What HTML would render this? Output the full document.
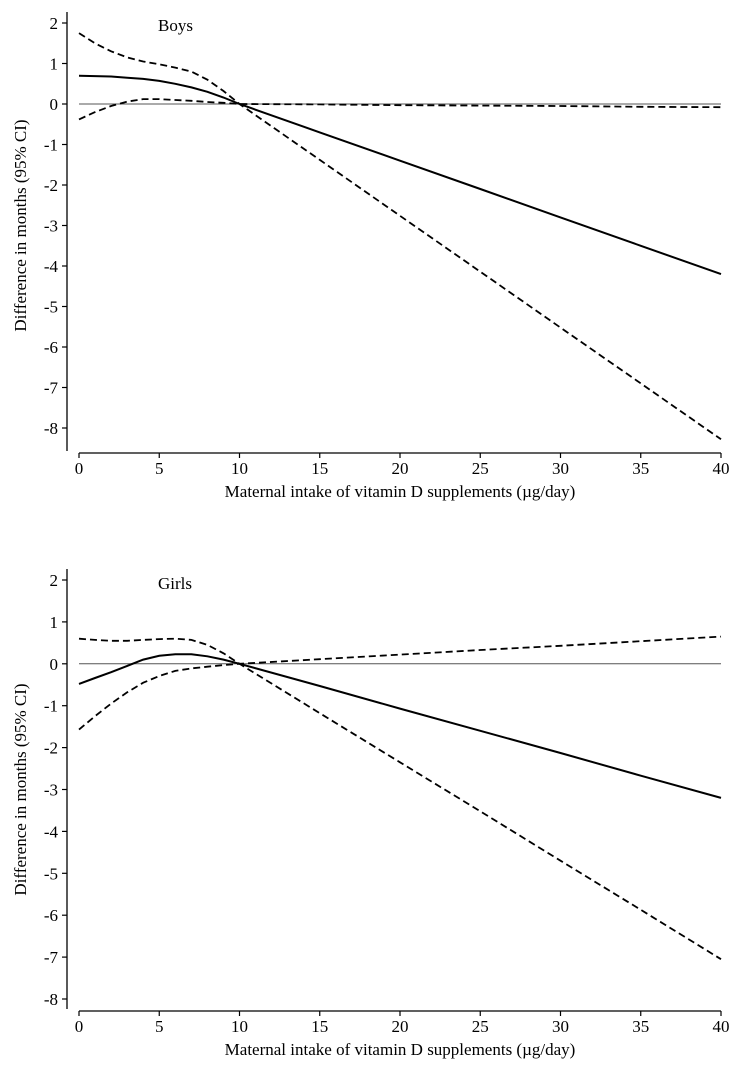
<!DOCTYPE html>
<html><head><meta charset="utf-8"><style>
body{margin:0;background:#fff;}
svg{display:block;font-family:"Liberation Serif",serif;}
</style></head><body>
<svg id="s" width="739" height="1071"></svg>
<script>
const xs=[0,1,2,3,4,5,6,7,8,9,10,15,20,25,30,35,40];
const boysEst=[0.7,0.69,0.68,0.65,0.62,0.57,0.5,0.41,0.3,0.16,0,-0.7,-1.4,-2.1,-2.8,-3.5,-4.2];
const boysA=[1.75,1.5,1.3,1.15,1.05,0.98,0.9,0.8,0.6,0.32,0,-1.38,-2.76,-4.14,-5.52,-6.9,-8.28];
const boysB=[-0.38,-0.2,-0.05,0.06,0.12,0.12,0.1,0.08,0.05,0.03,0,-0.01,-0.03,-0.04,-0.05,-0.07,-0.08];
const girlsEst=[-0.48,-0.34,-0.2,-0.05,0.1,0.19,0.23,0.23,0.18,0.1,0,-0.53,-1.07,-1.6,-2.13,-2.67,-3.2];
const girlsA=[0.6,0.57,0.55,0.55,0.57,0.59,0.6,0.57,0.45,0.25,0,-1.18,-2.35,-3.52,-4.7,-5.87,-7.05];
const girlsB=[-1.57,-1.25,-0.95,-0.68,-0.45,-0.29,-0.17,-0.11,-0.07,-0.03,0,0.11,0.22,0.33,0.43,0.54,0.65];
const xTicks=[0,5,10,15,20,25,30,35,40];
const yTicks=[2,1,0,-1,-2,-3,-4,-5,-6,-7,-8];
const svg=document.getElementById('s');
const NS='http://www.w3.org/2000/svg';
function el(t,a,p){const e=document.createElementNS(NS,t);for(const k in a)e.setAttribute(k,a[k]);(p||svg).appendChild(e);return e;}
function panel(name,y2,y0unit,axisY,yTop,title,titleY,xlabY,est,A,B){
  const g=el('g',{});
  
  
  const X=v=>79+v*16.05;
  const Y=v=>y2+(2-v)*y0unit;
  const ya=el('line',{x1:67,y1:yTop,x2:67,y2:axisY-2,stroke:'#000','stroke-width':1.3},g);
  
  yTicks.forEach(t=>{
    el('line',{x1:62,x2:67,y1:Y(t),y2:Y(t),stroke:'#000','stroke-width':1.2},g);
    const tx=el('text',{x:58,y:Y(t)+6,'text-anchor':'end','font-size':17},g);tx.textContent=t;
    
  });
  const xa=el('line',{x1:79,y1:axisY,x2:X(40),y2:axisY,stroke:'#000','stroke-width':1.3},g);
  
  xTicks.forEach(t=>{
    el('line',{x1:X(t),x2:X(t),y1:axisY,y2:axisY+5,stroke:'#000','stroke-width':1.2},g);
    const tx=el('text',{x:X(t),y:axisY+21,'text-anchor':'middle','font-size':17},g);tx.textContent=t;
    
  });
  const ref=el('line',{x1:79,x2:X(40),y1:Y(0),y2:Y(0),stroke:'#555','stroke-width':1},g);
  
  const pts=arr=>xs.map((x,i)=>X(x).toFixed(1)+','+Y(arr[i]).toFixed(1)).join(' ');
  const l1=el('polyline',{points:pts(est),fill:'none',stroke:'#000','stroke-width':2},g);
  
  const l2=el('polyline',{points:pts(A),fill:'none',stroke:'#000','stroke-width':1.8,'stroke-dasharray':'7,4'},g);
  
  const l3=el('polyline',{points:pts(B),fill:'none',stroke:'#000','stroke-width':1.8,'stroke-dasharray':'7,4'},g);
  
  const tt=el('text',{x:158,y:titleY,'font-size':17},g);tt.textContent=title;
  
  const xt=el('text',{x:400,y:xlabY,'text-anchor':'middle','font-size':17},g);xt.textContent='Maternal intake of vitamin D supplements (µg/day)';
  
  const cy=Y(-3);
  const yt=el('text',{x:0,y:0,'text-anchor':'middle','font-size':17,transform:'translate(26,'+cy+') rotate(-90)'},g);yt.textContent='Difference in months (95% CI)';
  
}
panel('boys',23,40.5,453,12,'Boys',31,497,boysEst,boysA,boysB);
panel('girls',580,41.9,1011,569,'Girls',589,1055,girlsEst,girlsA,girlsB);
</script>
</body></html>
